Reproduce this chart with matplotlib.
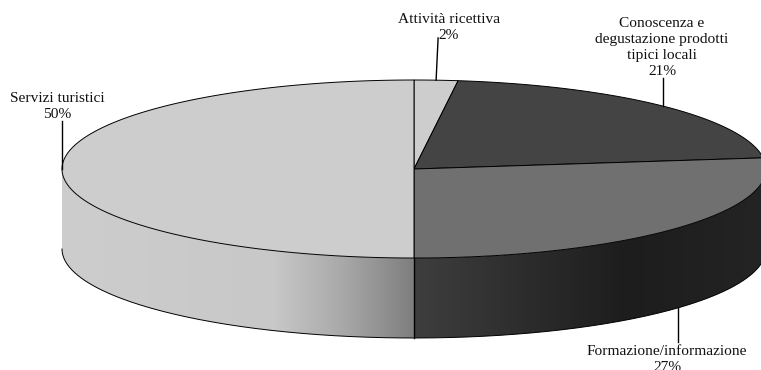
# 3D looking pie, drawn by hand in pixel coordinates
import numpy as np
import matplotlib.pyplot as plt
from matplotlib.colors import LinearSegmentedColormap
from matplotlib.patches import Polygon

labels = ['Attività ricettiva', 'Conoscenza e\ndegustazione prodotti\ntipici locali',
          'Formazione/informazione', 'Servizi turistici']
values = [2, 21, 27, 50]
colors = ['#cdcdcd', '#444444', '#707070', '#cdcdcd']
# leader length and text anchor for each label
leader_ends = [38, 78, 342, 121]
text_anchor = [(449, 13), (662, 17), (667, 345), (57, 92)]

# pie geometry
cx, cy = 414, 169
rx, ry = 352, 89
depth = 80

plt.rcParams['font.family'] = ['Liberation Serif', 'DejaVu Serif']
fig = plt.figure(figsize=(7.61, 3.70), dpi=100)
ax = fig.add_axes([0, 0, 1, 1])
ax.set_xlim(0, 761)
ax.set_ylim(370, 0)
ax.axis('off')


def rim(a0, a1, dy=0):
    # points on the ellipse, angles clockwise from 12 o'clock
    t = np.radians(np.linspace(a0, a1, 200))
    return np.column_stack([cx + rx * np.sin(t), cy - ry * np.cos(t) + dy])


edges = np.cumsum([0] + values) * 3.6

# side walls, only the front half is visible
wall_cmaps = {
    2: LinearSegmentedColormap.from_list('w2', [(0, '#3e3e3e'), (0.6, '#1d1d1d'), (1, '#242424')]),
    3: LinearSegmentedColormap.from_list('w3', [(0, '#cdcdcd'), (0.6, '#c8c8c8'), (0.8, '#a8a8a8'), (1, '#7e7e7e')]),
}
for i in (2, 3):
    a0 = max(edges[i], 90)
    a1 = min(edges[i + 1], 270)
    top = rim(a0, a1)
    bot = rim(a0, a1, depth)
    wall = Polygon(np.vstack([top, bot[::-1]]), closed=True, facecolor='none', edgecolor='none')
    ax.add_patch(wall)
    xs = sorted([top[:, 0].min(), top[:, 0].max()])
    grad = np.linspace(0, 1, 256).reshape(1, -1)
    im = ax.imshow(grad, cmap=wall_cmaps[i], extent=[xs[0], xs[1], cy + ry + depth, cy],
                   aspect='auto', zorder=1)
    im.set_clip_path(wall)
ax.set_xlim(0, 761)
ax.set_ylim(370, 0)

# outline of the wall
ax.plot(*rim(90, 270, depth).T, color='black', lw=0.7, zorder=2)
ax.plot([cx, cx], [cy + ry, cy + ry + depth], color='black', lw=1.0, zorder=2)

# top face
for i in range(len(values)):
    pts = np.vstack([[cx, cy], rim(edges[i], edges[i + 1])])
    ax.add_patch(Polygon(pts, closed=True, facecolor=colors[i], edgecolor='black', lw=0.7, zorder=3))

# leaders and labels
for i in range(len(values)):
    mid = (edges[i] + edges[i + 1]) / 2
    x, y = rim(mid, mid)[0]
    if 90 < mid < 270:
        y += depth
    x_end = x + 2 if i == 0 else x
    ax.plot([x, x_end], [y, leader_ends[i]], color='black', lw=1.0, zorder=4)
    tx, ty = text_anchor[i]
    ax.text(tx, ty, f'{labels[i]}\n{values[i]}%', ha='center', va='top', fontsize=11.1,
            linespacing=1.31, color='#111111', zorder=5)

fig.savefig('out.png', dpi=100)
